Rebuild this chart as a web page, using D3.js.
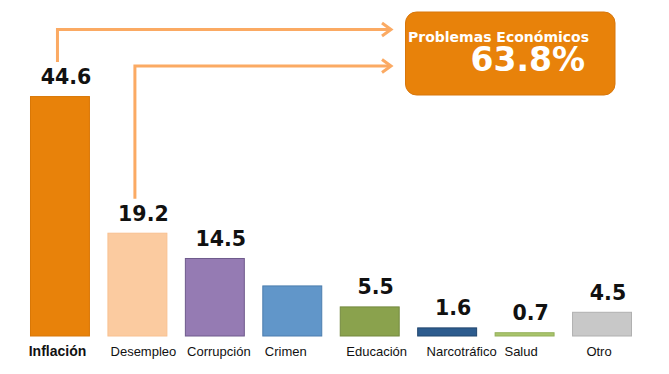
<!DOCTYPE html>
<html>
<head>
<meta charset="utf-8">
<script src="https://cdn.jsdelivr.net/npm/d3@7"></script>
<style>
  body { margin: 0; background: #fff; }
  svg { display: block; }
</style>
</head>
<body>
<svg width="669" height="374"></svg>
<script>
// data
const categories = ["Inflación", "Desempleo", "Corrupción", "Crimen", "Educación", "Narcotráfico", "Salud", "Otro"];
const values = [44.6, 19.2, 14.5, 9.4, 5.5, 1.6, 0.7, 4.5];
const colors = ["#E8820A", "#FBCBA0", "#957BB3", "#6196C9", "#8AA24D", "#2D5C8E", "#A9C46C", "#C8C8C8"];
const strokes = ["#D97706", "#F8C090", "#6E5A8C", "#4C7DAE", "#74893F", "#21466E", "#93AF58", "#B0B0B0"];
const hiddenLabels = ["Crimen"];
const arrowFrom = ["Inflación", "Desempleo"];
const boxTitle = "Problemas Económicos";
const boxValue = "63.8%";

// layout tweak for category label placement (px)
const labelShift = [-2.5, 6, 4, -6.5, 7, 14.5, -3.5, -3];

let svg = d3.select("svg");

let x = d3.scaleBand()
  .domain(categories)
  .range([21.25, 640.75])
  .paddingInner(17.5 / 77.5)
  .paddingOuter(8.75 / 77.5);

let y = d3.scaleLinear()
  .domain([0, 50])
  .range([336, 67]);

let data = categories.map((c, i) => ({ cat: c, val: values[i], i: i }));

// bars
svg.selectAll("rect.bar")
  .data(data)
  .enter()
  .append("rect")
  .attr("class", "bar")
  .attr("x", d => x(d.cat) + 0.5)
  .attr("y", d => y(d.val) + 0.5)
  .attr("width", x.bandwidth() - 1)
  .attr("height", d => y(0) - y(d.val) - 0.5)
  .attr("fill", d => colors[d.i])
  .attr("stroke", d => strokes[d.i])
  .attr("stroke-width", 1);

// value labels
svg.selectAll("text.val")
  .data(data.filter(d => !hiddenLabels.includes(d.cat)))
  .enter()
  .append("text")
  .attr("class", "val")
  .attr("x", d => x(d.cat) + x.bandwidth() / 2 + 6)
  .attr("y", d => y(d.val) - 12)
  .attr("text-anchor", "middle")
  .style("font-family", "DejaVu Sans")
  .style("font-weight", "bold")
  .style("font-size", "20.5px")
  .attr("fill", "#111")
  .text(d => d.val.toFixed(1));

// category labels
svg.selectAll("text.cat")
  .data(data)
  .enter()
  .append("text")
  .attr("class", "cat")
  .attr("x", d => x(d.cat) + x.bandwidth() / 2 + labelShift[d.i])
  .attr("y", 356)
  .attr("text-anchor", "middle")
  .style("font-family", "Liberation Sans, Arial, sans-serif")
  .style("font-weight", d => d.i == 0 ? "bold" : "normal")
  .style("font-size", d => d.i == 0 ? "14px" : "13px")
  .attr("fill", "#111")
  .text(d => d.cat);

// arrows going to the box
const arrowColor = "#FBAA63";
const rowY = [29.5, 66];
const tipX = 391;
arrowFrom.forEach((c, k) => {
  let v = values[categories.indexOf(c)];
  let ax = x(c) + x.bandwidth() / 2 - 2.5;
  let path = d3.path();
  path.moveTo(ax, y(v) - 34);
  path.lineTo(ax, rowY[k]);
  path.lineTo(tipX, rowY[k]);
  svg.append("path")
    .attr("d", path.toString())
    .attr("fill", "none")
    .attr("stroke", arrowColor)
    .attr("stroke-width", 3);
  svg.append("path")
    .attr("d", d3.line()([[tipX - 9, rowY[k] - 6.5], [tipX, rowY[k]], [tipX - 9, rowY[k] + 6.5]]))
    .attr("fill", "none")
    .attr("stroke", arrowColor)
    .attr("stroke-width", 3);
});

// summary box
svg.append("rect")
  .attr("x", 405.5)
  .attr("y", 12)
  .attr("width", 209.5)
  .attr("height", 83)
  .attr("rx", 11)
  .attr("fill", "#E8820A")
  .attr("stroke", "#D8760A")
  .attr("stroke-width", 1);

svg.append("text")
  .attr("x", 408)
  .attr("y", 41.5)
  .style("font-family", "DejaVu Sans")
  .style("font-weight", "bold")
  .style("font-size", "14px")
  .attr("fill", "#fff")
  .text(boxTitle);

svg.append("text")
  .attr("x", 585)
  .attr("y", 71)
  .attr("text-anchor", "end")
  .style("font-family", "DejaVu Sans")
  .style("font-weight", "bold")
  .style("font-size", "33px")
  .attr("fill", "#fff")
  .text(boxValue);
</script>
</body>
</html>
